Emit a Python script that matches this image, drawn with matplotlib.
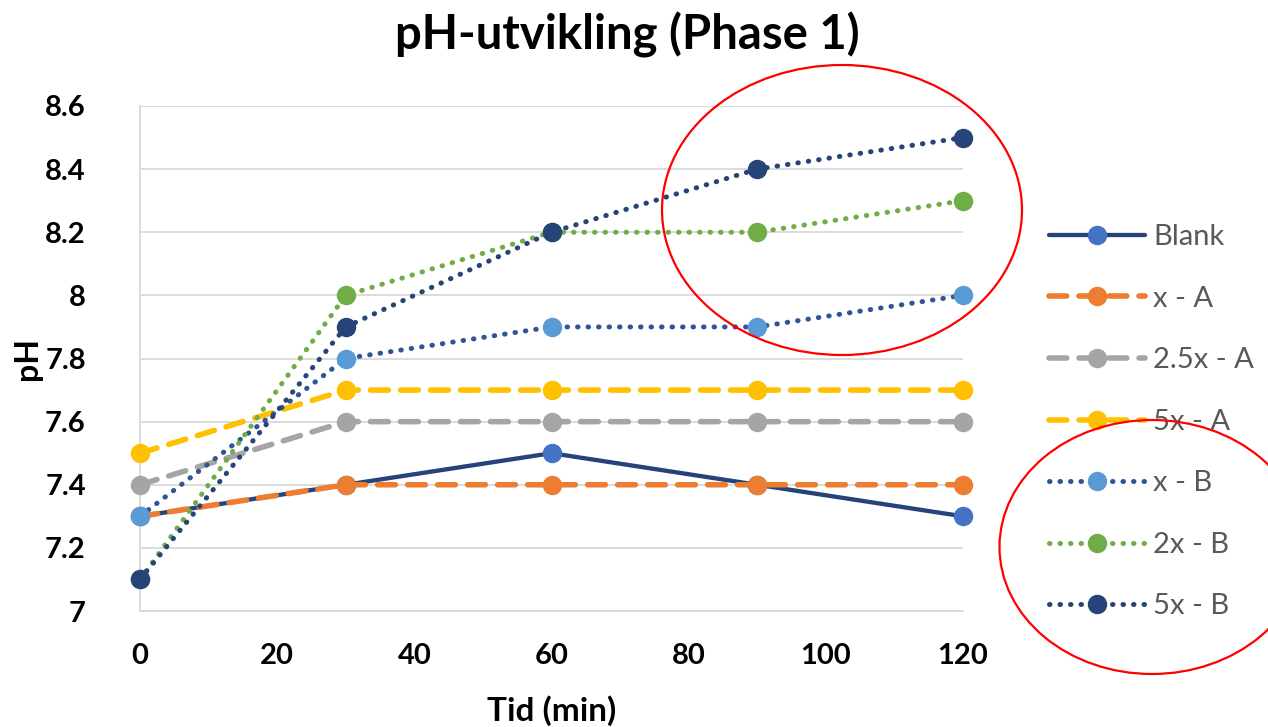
import matplotlib
matplotlib.use('Agg')
import matplotlib.pyplot as plt
from matplotlib.patches import Ellipse

# Data
tid = [0, 30, 60, 90, 120]
blank = [7.3, 7.4, 7.5, 7.4, 7.3]
x_a = [7.3, 7.4, 7.4, 7.4, 7.4]
x25_a = [7.4, 7.6, 7.6, 7.6, 7.6]
x5_a = [7.5, 7.7, 7.7, 7.7, 7.7]
x_b = [7.3, 7.8, 7.9, 7.9, 8.0]
x2_b = [7.1, 8.0, 8.2, 8.2, 8.3]
x5_b = [7.1, 7.9, 8.2, 8.4, 8.5]

labels = ['Blank', 'x - A', '2.5x - A', '5x - A', 'x - B', '2x - B', '5x - B']
series = [blank, x_a, x25_a, x5_a, x_b, x2_b, x5_b]
line_colors = ['#264478', '#ED7D31', '#A5A5A5', '#FFC000', '#2F5597', '#70AD47', '#264478']
marker_colors = ['#4472C4', '#ED7D31', '#A5A5A5', '#FFC000', '#5B9BD5', '#70AD47', '#264478']
styles = ['solid', 'dash', 'dash', 'dash', 'dot', 'dot', 'dot']

plt.rcParams['font.family'] = ['Lato', 'DejaVu Sans']

fig = plt.figure(figsize=(12.68, 7.27), dpi=100)
ax = fig.add_axes([140 / 1268, 1 - 611 / 727, 823 / 1268, 505 / 727])

for y, lab, lc, mc, st in zip(series, labels, line_colors, marker_colors, styles):
    kw = dict(color=lc, marker='o', markersize=13, markerfacecolor=mc,
              markeredgecolor=mc, label=lab, clip_on=False, zorder=3)
    if st == 'solid':
        ax.plot(tid, y, linewidth=3.1, solid_capstyle='round', **kw)
    elif st == 'dash':
        ax.plot(tid, y, linewidth=4.0, dashes=(3.2, 2.2), dash_capstyle='round', **kw)
    else:
        ax.plot(tid, y, linewidth=3.6, dashes=(0.1, 2.0), dash_capstyle='round', **kw)

ax.set_xlim(0, 120)
ax.set_ylim(7, 8.6)
ax.set_xticks([0, 20, 40, 60, 80, 100, 120])
ax.set_yticks([7, 7.2, 7.4, 7.6, 7.8, 8, 8.2, 8.4, 8.6])
ax.set_yticklabels(['7', '7.2', '7.4', '7.6', '7.8', '8', '8.2', '8.4', '8.6'])
ax.grid(axis='y', color='#D9D9D9', linewidth=1.3)
ax.set_axisbelow(True)
for s in ['top', 'right']:
    ax.spines[s].set_visible(False)
for s in ['left', 'bottom']:
    ax.spines[s].set_color('#D9D9D9')
    ax.spines[s].set_linewidth(1.3)
ax.tick_params(axis='both', length=0, labelsize=21)
ax.tick_params(axis='y', pad=39)
ax.tick_params(axis='x', pad=23)
for t in ax.get_xticklabels() + ax.get_yticklabels():
    t.set_fontweight('bold')

ax.set_xlabel('Tid (min)', fontsize=24, fontweight='bold')
ax.set_ylabel('pH', fontsize=23, fontweight='bold')
ax.xaxis.set_label_coords(0.5, (611 - 695) / 505)
ax.yaxis.set_label_coords((42 - 140) / 823, 0.5)

fig.text(627 / 1268, 1 - 35 / 727, 'pH-utvikling (Phase 1)', ha='center', va='center',
         fontsize=34, fontweight='bold')

leg = ax.legend(loc='upper left', bbox_to_anchor=(1049 / 1268, 1 - 224 / 727),
                bbox_transform=fig.transFigure, frameon=False, fontsize=21,
                handlelength=3.3, labelspacing=1.22, handletextpad=0.27,
                borderpad=0, borderaxespad=0)
for t in leg.get_texts():
    t.set_color('#595959')

# Red annotation ellipses
fig.patches.append(Ellipse((842 / 1268, 1 - 210 / 727), 360 / 1268, 290 / 727,
                           transform=fig.transFigure, fill=False, edgecolor='red', linewidth=1.6))
fig.patches.append(Ellipse((1152 / 1268, 1 - 547 / 727), 305 / 1268, 254 / 727,
                           transform=fig.transFigure, fill=False, edgecolor='red', linewidth=1.6))

fig.savefig('out.png', dpi=100)
